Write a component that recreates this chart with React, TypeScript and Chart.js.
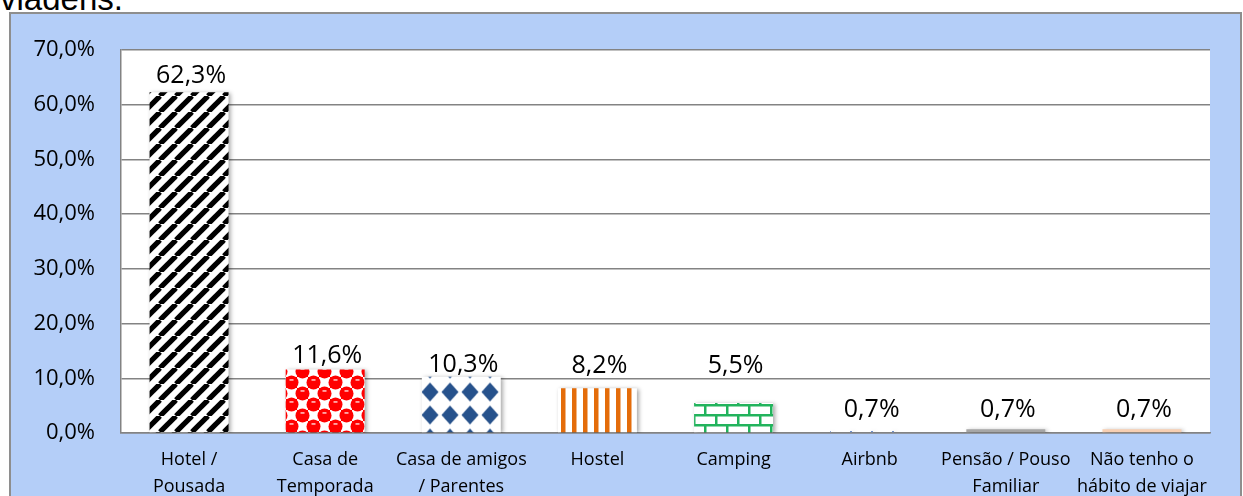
import React, { useEffect, useRef } from "react";
import { Chart, registerables } from "chart.js";

Chart.register(...registerables);

const categories: string[][] = [
  ["Hotel /", "Pousada"],
  ["Casa de", "Temporada"],
  ["Casa de amigos", "/ Parentes"],
  ["Hostel"],
  ["Camping"],
  ["Airbnb"],
  ["Pensão / Pouso", "Familiar"],
  ["Não tenho o", "hábito de viajar"],
];
const values: number[] = [62.3, 11.6, 10.3, 8.2, 5.5, 0.7, 0.7, 0.7];
const yTicks: number[] = [0, 10, 20, 30, 40, 50, 60, 70];
const titleFragment = "viagens.";
// label distance above each bar top (style only)
const labelGaps: number[] = [9, 7, 5, 15, 30, 12, 12, 12];

const fmt = (v: number) => v.toFixed(1).replace(".", ",") + "%";

function tile(
  w: number,
  h: number,
  draw: (c: CanvasRenderingContext2D) => void,
  target: CanvasRenderingContext2D,
  dx = 0,
  dy = 0
) {
  const cv = document.createElement("canvas");
  cv.width = w;
  cv.height = h;
  const c = cv.getContext("2d")!;
  draw(c);
  const p = target.createPattern(cv, "repeat")!;
  if (dx || dy) p.setTransform(new DOMMatrix().translate(dx, dy));
  return p;
}

function makePatterns(ctx: CanvasRenderingContext2D) {
  const stripes = tile(16, 16, (c) => {
    c.fillStyle = "#fff";
    c.fillRect(0, 0, 16, 16);
    c.strokeStyle = "#000";
    c.lineWidth = 5.2;
    for (const o of [-16, 0, 16]) {
      c.beginPath();
      c.moveTo(o, 16);
      c.lineTo(o + 16, 0);
      c.stroke();
    }
  }, ctx);
  const checker = tile(22, 22, (c) => {
    c.fillStyle = "#fff";
    c.fillRect(0, 0, 22, 22);
    c.fillStyle = "#FF0000";
    c.fillRect(0, 0, 11, 11);
    c.fillRect(11, 11, 11, 11);
    for (const [cx, cy] of [[5.5, 5.5], [16.5, 16.5], [-5.5, -5.5], [27.5, 27.5], [27.5, 5.5], [5.5, 27.5], [-5.5, 16.5], [16.5, -5.5], [27.5, -5.5], [-5.5, 27.5]]) {
      c.beginPath();
      c.arc(cx, cy, 7, 0, Math.PI * 2);
      c.fill();
    }
    c.fillStyle = "rgba(255,215,215,0.95)";
    c.fillRect(3.5, 2.2, 4, 1.5);
    c.fillRect(14.5, 13.2, 4, 1.5);
  }, ctx, 0, 3);
  const diamonds = tile(20, 23, (c) => {
    c.fillStyle = "#fff";
    c.fillRect(0, 0, 20, 23);
    c.fillStyle = "#27528C";
    c.beginPath();
    c.moveTo(10, 2);
    c.lineTo(18.5, 11.5);
    c.lineTo(10, 21);
    c.lineTo(1.5, 11.5);
    c.closePath();
    c.fill();
  }, ctx, 0, 12.5);
  const vstripes = tile(11, 10, (c) => {
    c.fillStyle = "#fff";
    c.fillRect(0, 0, 11, 10);
    c.fillStyle = "#E46C0A";
    c.fillRect(0, 0, 4.5, 10);
  }, ctx);
  const bricks = tile(22, 20, (c) => {
    c.fillStyle = "#fff";
    c.fillRect(0, 0, 22, 20);
    c.fillStyle = "#22B35C";
    c.fillRect(0, 4, 22, 2.5);
    c.fillRect(0, 14, 22, 2.5);
    c.fillRect(0, 6, 2.5, 8);
    c.fillRect(11, 16, 2.5, 4);
    c.fillRect(11, 0, 2.5, 4);
  }, ctx);
  const dots = tile(21, 5, (c) => {
    c.fillStyle = "#6F8FC9";
    c.fillRect(10, 1, 2, 2);
  }, ctx);
  return [stripes, checker, diamonds, vstripes, bricks, dots, "#A6A6A6", "#F8CFB2"];
}

export default function App() {
  const ref = useRef<HTMLCanvasElement | null>(null);

  useEffect(() => {
    const canvas = ref.current!;
    const ctx = canvas.getContext("2d")!;
    const fills = makePatterns(ctx);

    const framePlugin = {
      id: "frame",
      beforeDraw(chart: any) {
        const c = chart.ctx;
        const a = chart.chartArea;
        c.save();
        c.fillStyle = "#B4CEF8";
        c.fillRect(10, 13, 1231, 600);
        c.strokeStyle = "#8E8E8E";
        c.lineWidth = 2;
        c.strokeRect(10, 13, 1231, 600);
        c.fillStyle = "#FFFFFF";
        c.fillRect(a.left, a.top, a.right - a.left, a.bottom - a.top);
        c.restore();
      },
      beforeDatasetsDraw(chart: any) {
        const c = chart.ctx;
        c.save();
        c.shadowColor = "rgba(0,0,0,0.35)";
        c.shadowBlur = 4;
        c.shadowOffsetX = 2;
        c.shadowOffsetY = 1;
      },
      afterDatasetsDraw(chart: any) {
        const c = chart.ctx;
        c.restore();
        c.save();
        c.font = '25px "Open Sans"';
        c.fillStyle = "#000";
        c.textAlign = "center";
        c.textBaseline = "alphabetic";
        const meta = chart.getDatasetMeta(0);
        meta.data.forEach((bar: any, i: number) => {
          c.fillText(fmt(values[i]), bar.x + 2, bar.y - labelGaps[i]);
        });
        c.restore();
      },
    };

    const chart = new Chart(ctx, {
      type: "bar",
      data: {
        labels: categories,
        datasets: [
          {
            data: values,
            backgroundColor: fills as any,
            borderWidth: 0,
            barPercentage: 0.58,
            categoryPercentage: 1,
          },
        ],
      },
      options: {
        animation: false,
        responsive: false,
        devicePixelRatio: 1,
        layout: { padding: { left: 0, top: 50, right: 33, bottom: 0 } },
        plugins: {
          legend: { display: false },
          tooltip: { enabled: false },
          title: { display: false },
        },
        scales: {
          x: {
            afterFit: (s: any) => {
              s.height = 63;
            },
            grid: { display: false, drawTicks: false },
            border: { display: true, color: "#838383", width: 1.5 },
            ticks: {
              autoSkip: false,
              maxRotation: 0,
              minRotation: 0,
              padding: 13,
              color: "#000",
              font: { family: "Open Sans", size: 18, lineHeight: "27px" as any },
            },
          },
          y: {
            min: 0,
            max: 70,
            afterFit: (s: any) => {
              s.width = 121;
            },
            afterBuildTicks: (s: any) => {
              s.ticks = yTicks.map((v) => ({ value: v }));
            },
            grid: { color: "#838383", lineWidth: 1.5, drawTicks: false },
            border: { display: true, color: "#838383", width: 1.5 },
            ticks: {
              padding: 26,
              color: "#000",
              font: { family: "Open Sans", size: 22 },
              callback: (v: any) => fmt(Number(v)),
            },
          },
        },
      },
      plugins: [framePlugin],
    });
    return () => chart.destroy();
  }, []);

  return (
    <div style={{ position: "fixed", left: 0, top: 0, width: 1243, height: 496, background: "#fff", overflow: "hidden" }}>
      <div style={{ position: "absolute", left: 0, top: 0, width: 300, height: 10, overflow: "hidden" }}>
        <span
          style={{
            position: "absolute",
            left: 0,
            top: -18,
            fontFamily: '"Liberation Sans", Arial, sans-serif',
            fontSize: 33,
            lineHeight: "33px",
            color: "#000",
            whiteSpace: "nowrap",
          }}
        >
          {titleFragment}
        </span>
      </div>
      <canvas ref={ref} width={1243} height={496} style={{ position: "absolute", left: 0, top: 0, width: 1243, height: 496, display: "block" }} />
    </div>
  );
}
